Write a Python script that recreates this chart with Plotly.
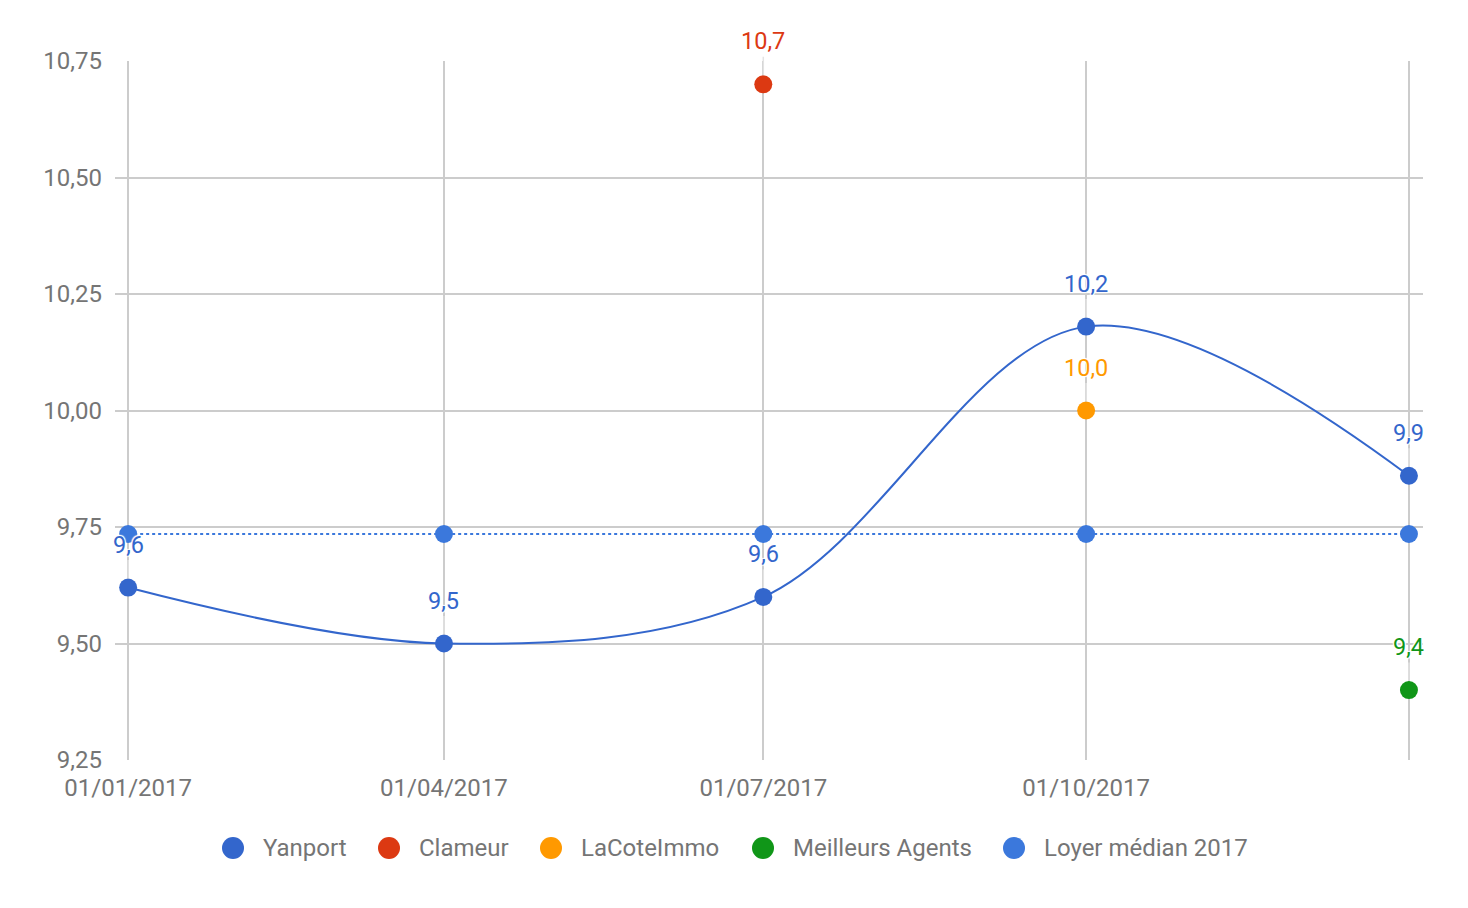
import plotly.graph_objects as go

dates = ["2017-01-01", "2017-04-01", "2017-07-01", "2017-10-01", "2018-01-01"]
x_tick_labels = ["01/01/2017", "01/04/2017", "01/07/2017", "01/10/2017", ""]
y_tick_vals = [9.25, 9.5, 9.75, 10.0, 10.25, 10.5, 10.75]

yanport = [9.62, 9.50, 9.60, 10.18, 9.86]
clameur_x = ["2017-07-01"]
clameur = [10.70]
lacote_x = ["2017-10-01"]
lacote = [10.00]
meilleurs_x = ["2018-01-01"]
meilleurs = [9.40]
median_2017 = [9.735, 9.735, 9.735, 9.735, 9.735]

series_names = ["Yanport", "Clameur", "LaCoteImmo", "Meilleurs Agents", "Loyer médian 2017"]
C_YAN = "#3366cc"
C_CLA = "#dc3912"
C_LAC = "#ff9900"
C_MEI = "#109618"
C_MED = "#3b78dc"
series_colors = [C_YAN, C_CLA, C_LAC, C_MEI, C_MED]

FONT = "Roboto"
GRAY = "#757575"
FS = 24
FS_LBL = 23.5

# layout geometry (pixels)
W, H = 1468, 908
ML, MR, MT, MB = 115, 45, 61, 148
PW, PH = W - ML - MR, H - MT - MB
legend_marker_px = [233, 389, 551, 763, 1014]
legend_y_px = 848

fig = go.Figure()

fig.add_trace(go.Scatter(x=dates, y=yanport, name=series_names[0], mode="lines+markers",
                         line=dict(color=C_YAN, width=2, shape="spline", smoothing=1.0),
                         marker=dict(color=C_YAN, size=18)))
fig.add_trace(go.Scatter(x=clameur_x, y=clameur, name=series_names[1], mode="markers",
                         marker=dict(color=C_CLA, size=18)))
fig.add_trace(go.Scatter(x=lacote_x, y=lacote, name=series_names[2], mode="markers",
                         marker=dict(color=C_LAC, size=18)))
fig.add_trace(go.Scatter(x=meilleurs_x, y=meilleurs, name=series_names[3], mode="markers",
                         marker=dict(color=C_MEI, size=18)))
fig.add_trace(go.Scatter(x=dates, y=median_2017, name=series_names[4], mode="lines+markers",
                         line=dict(color=C_MED, width=2, dash="dot"),
                         marker=dict(color=C_MED, size=18)))

halo = "1px 1px 1px white, -1px -1px 1px white, 1px -1px 1px white, -1px 1px 1px white, 0 0 2px white"

def fmt(v):
    return f"{v:.1f}".replace(".", ",")

def add_labels(xs, ys, color):
    for xv, yv in zip(xs, ys):
        fig.add_annotation(x=xv, y=yv, xref="x", yref="y", text=fmt(yv),
                           showarrow=True, arrowhead=0, arrowwidth=1.5, arrowcolor="#e3e3e3",
                           ax=0, ay=-43, standoff=9,
                           font=dict(family=FONT, size=FS_LBL, color=color, shadow=halo))

add_labels(dates, yanport, C_YAN)
add_labels(clameur_x, clameur, C_CLA)
add_labels(lacote_x, lacote, C_LAC)
add_labels(meilleurs_x, meilleurs, C_MEI)

# custom legend (big circles like the reference)
ly = (H - MB - legend_y_px) / PH
for name, color, mx in zip(series_names, series_colors, legend_marker_px):
    xp = (mx - ML) / PW
    fig.add_shape(type="circle", xref="paper", yref="paper",
                  xsizemode="pixel", ysizemode="pixel",
                  xanchor=xp, yanchor=ly, x0=-11, x1=11, y0=-11, y1=11,
                  fillcolor=color, line=dict(width=0))
    fig.add_annotation(x=(mx + 28 - ML) / PW, y=ly, xref="paper", yref="paper",
                       text=name, showarrow=False, xanchor="left", yanchor="middle",
                       font=dict(family=FONT, size=FS, color=GRAY))

fig.update_layout(
    width=W, height=H,
    margin=dict(l=ML, r=MR, t=MT, b=MB),
    paper_bgcolor="white", plot_bgcolor="white",
    separators=", ",
    font=dict(family=FONT, size=FS, color=GRAY),
    showlegend=False,
    hovermode=False,
)
fig.update_xaxes(type="date", range=["2016-12-28 06:00", "2018-01-05"],
                 tickmode="array", tickvals=dates, ticktext=x_tick_labels,
                 showgrid=True, gridcolor="#cccccc", gridwidth=1.5,
                 zeroline=False, showline=False, ticks="", ticklabelstandoff=11,
                 tickfont=dict(family=FONT, size=FS, color=GRAY))
fig.update_yaxes(range=[9.25, 10.75], tickmode="array", tickvals=y_tick_vals,
                 tickformat=".2f",
                 showgrid=True, gridcolor="#cccccc", gridwidth=1.5,
                 zeroline=False, showline=False, ticks="", ticklabelstandoff=12,
                 tickfont=dict(family=FONT, size=FS, color=GRAY))

fig.write_html("out.html")
